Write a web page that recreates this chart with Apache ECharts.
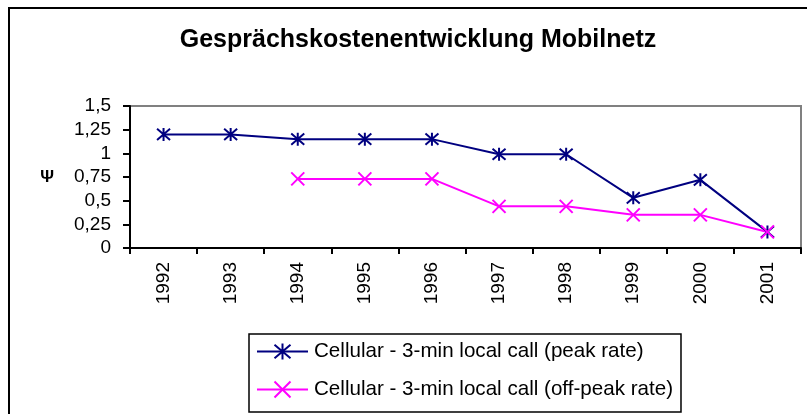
<!DOCTYPE html>
<html lang="de">
<head>
<meta charset="UTF-8">
<title>Gesprächskostenentwicklung Mobilnetz</title>
<script src="https://cdn.jsdelivr.net/npm/echarts@6/dist/echarts.min.js"></script>
<style>
html, body { margin: 0; padding: 0; background: #fff; }
#chart { width: 807px; height: 414px; }
</style>
</head>
<body>
<div id="chart"></div>
<script>
var years = ['1992', '1993', '1994', '1995', '1996', '1997', '1998', '1999', '2000', '2001'];
var peakRate = [1.2, 1.2, 1.15, 1.15, 1.15, 0.99, 0.99, 0.53, 0.72, 0.17];
var offPeakRate = ['-', '-', 0.73, 0.73, 0.73, 0.44, 0.44, 0.35, 0.35, 0.17];
var seriesNames = ['Cellular - 3-min local call (peak rate)', 'Cellular - 3-min local call (off-peak rate)'];

var font = 'Liberation Sans, Arial, sans-serif';
// Sternchen und Kreuz als Markierungen
var starPath = 'path://M-6,-6L6,6M-6,6L6,-6M0,-7L0,7';
var crossPath = 'path://M-6,-6L6,6M-6,6L6,-6';

var chart = echarts.init(document.getElementById('chart'));
var option = {
    backgroundColor: '#fff',
    animation: false,
    title: {
        text: 'Gesprächskostenentwicklung Mobilnetz',
        left: 413, textAlign: 'center',
        top: 23,
        textStyle: { fontFamily: font, fontSize: 25, fontWeight: 'bold', color: '#000' }
    },
    graphic: [{
        type: 'rect',
        shape: { x: 9, y: 8, width: 900, height: 500 },
        style: { fill: 'none', stroke: '#000', lineWidth: 2 },
        z: 100
    }],
    grid: {
        left: 130, right: 6, top: 106, bottom: 166,
        show: true, borderColor: '#808080', borderWidth: 2
    },
    legend: {
        orient: 'vertical',
        left: 249, top: 334,
        padding: [7, 8, 12, 7],
        itemGap: 17,
        itemWidth: 51,
        itemHeight: 20,
        borderColor: '#000',
        borderWidth: 1.5,
        textStyle: { fontFamily: font, fontSize: 20.6, color: '#000', padding: [0, 0, 0, 1] },
        data: seriesNames
    },
    xAxis: {
        type: 'category',
        data: years,
        boundaryGap: true,
        axisLine: { lineStyle: { color: '#000', width: 2 } },
        axisTick: { show: true, length: 6, lineStyle: { color: '#000', width: 2 } },
        axisLabel: { rotate: 90, margin: 14, fontFamily: font, fontSize: 19, color: '#000' }
    },
    yAxis: {
        type: 'value',
        min: 0, max: 1.5, interval: 0.25,
        name: 'Ψ',
        nameLocation: 'middle',
        nameRotate: 0,
        nameGap: 76,
        nameTextStyle: { fontFamily: font, fontSize: 17, fontWeight: 'bold', color: '#000' },
        axisLine: { show: true, lineStyle: { color: '#000', width: 2 } },
        axisTick: { show: true, length: 7, lineStyle: { color: '#000', width: 2 } },
        splitLine: { show: false },
        axisLabel: {
            margin: 19, fontFamily: font, fontSize: 19, color: '#000',
            formatter: function (v) { return String(v).replace('.', ','); }
        }
    },
    series: [{
        name: seriesNames[0],
        type: 'line',
        data: peakRate,
        symbol: starPath,
        symbolSize: 13,
        lineStyle: { color: '#000080', width: 2 },
        itemStyle: { color: 'none', borderColor: '#000080', borderWidth: 2 }
    }, {
        name: seriesNames[1],
        type: 'line',
        data: offPeakRate,
        symbol: crossPath,
        symbolSize: 13,
        lineStyle: { color: '#ff00ff', width: 2 },
        itemStyle: { color: 'none', borderColor: '#ff00ff', borderWidth: 2 }
    }]
};
chart.setOption(option);
</script>
</body>
</html>
